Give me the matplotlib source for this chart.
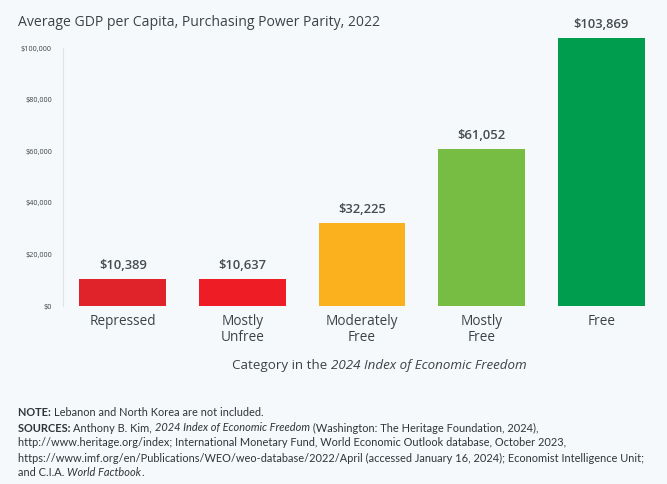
import matplotlib
matplotlib.use("Agg")
import matplotlib.pyplot as plt

categories = ["Repressed", "Mostly\nUnfree", "Moderately\nFree", "Mostly\nFree", "Free"]
values = [10389, 10637, 32225, 61052, 103869]
colors = ["#e0232b", "#ee1c25", "#fbb11d", "#77bd43", "#019d4e"]
yticks = [0, 20000, 40000, 60000, 80000, 100000]
ytick_labels = ["$0", "$20,000", "$40,000", "$60,000", "$80,000", "$100,000"]

BG = "#f6f9fb"
TXT = "#3b4347"
plt.rcParams['font.family'] = ['Open Sans', 'DejaVu Sans']

fig = plt.figure(figsize=(6.67, 4.84), dpi=100, facecolor=BG)
ax = fig.add_axes([63/667, 1-306/484, (661-63)/667, (306-30)/484], facecolor=BG)

x = list(range(len(categories)))
bars = ax.bar(x, values, width=0.725, color=colors, zorder=2)
ax.set_xlim(-0.5, 4.5)
ax.set_ylim(0, 107000)
for xi, v in zip(x, values):
    ax.text(xi, v + 2600, f"${v:,}", ha="center", va="bottom", fontsize=9.4,
            color="#444c50", fontweight="semibold")

ax.set_yticks(yticks)
ax.set_yticklabels(ytick_labels, fontsize=5.2, color=TXT)
ax.set_xticks(x)
ax.set_xticklabels(categories, fontsize=9.8, color=TXT, linespacing=1.05, va="top")
ax.tick_params(axis="both", length=0)
ax.tick_params(axis="y", pad=8)
ax.tick_params(axis="x", pad=6)
for s in ["top", "right", "bottom"]:
    ax.spines[s].set_visible(False)
ax.spines["left"].set_color("#dde3e6")
ax.spines["left"].set_linewidth(0.8)
ax.spines["left"].set_bounds(0, 100000)

fig.text(18/667, 1-22/484, "Average GDP per Capita, Purchasing Power Parity, 2022",
         fontsize=10.1, color=TXT, va="center", ha="left")

renderer = fig.canvas.get_renderer()

def draw_runs(xpix, ypix, runs, size, color=TXT, family=None):
    cx = xpix
    for txt, weight, style in runs:
        kw = {}
        if family:
            kw["family"] = family
        t = fig.text(cx/667, 1-ypix/484, txt, fontsize=size, color=color,
                     fontweight=weight, fontstyle=style, va="center", ha="left", **kw)
        bb = t.get_window_extent(renderer=renderer)
        cx += bb.width

draw_runs(232, 366, [("Category in the ", "normal", "normal"),
                     ("2024 Index of Economic Freedom", "normal", "italic")], 9.6)

NS = 7.9
NC = "#2f3538"
NF = ['Lato', 'DejaVu Sans']
draw_runs(18, 412, [("NOTE: ", "bold", "normal"),
                    ("Lebanon and North Korea are not included.", "normal", "normal")], NS, NC, NF)
draw_runs(18, 428, [("SOURCES: ", "bold", "normal"),
                    ("Anthony B. Kim, ", "normal", "normal"),
                    ("2024 Index of Economic Freedom", "normal", "italic"),
                    (" (Washington: The Heritage Foundation, 2024),", "normal", "normal")], NS, NC, NF)
draw_runs(18, 443, [("http://www.heritage.org/index; International Monetary Fund, World Economic Outlook database, October 2023,", "normal", "normal")], NS, NC, NF)
draw_runs(18, 458, [("https://www.imf.org/en/Publications/WEO/weo-database/2022/April (accessed January 16, 2024); Economist Intelligence Unit;", "normal", "normal")], NS, NC, NF)
draw_runs(18, 473, [("and C.I.A. ", "normal", "normal"),
                    ("World Factbook", "normal", "italic"),
                    (".", "normal", "normal")], NS, NC, NF)

fig.savefig("out.png", dpi=100, facecolor=BG)
